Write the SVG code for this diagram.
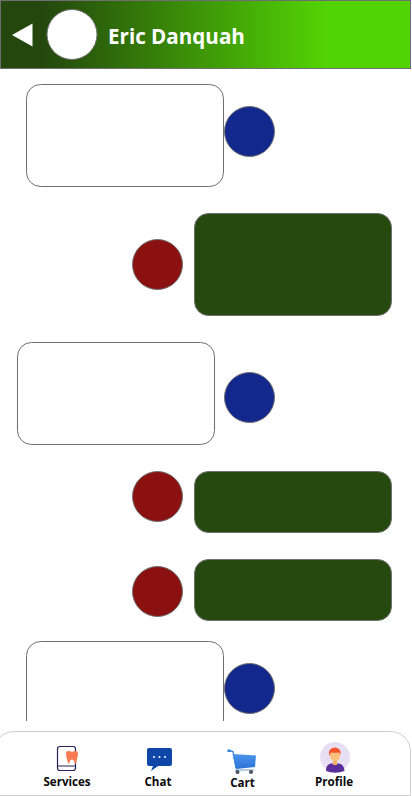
<svg xmlns="http://www.w3.org/2000/svg" width="412" height="796" viewBox="0 0 412 796">
<style>
.b{stroke:#6f6f6f;stroke-width:1}
.in{fill:#fff}
.out{fill:#26490f}
.u{fill:#12288c}
.r{fill:#8b1010}
.t{font-family:"Open Sans","Noto Sans","Liberation Sans",sans-serif;font-weight:700;font-size:11.6px;fill:#0a0a0a;text-anchor:middle}
</style>
<defs>
<linearGradient id="hg" gradientUnits="userSpaceOnUse" x1="0" y1="0" x2="411" y2="0">
<stop offset="0.1" stop-color="#23470d"/>
<stop offset="0.79" stop-color="#52d305"/>
<stop offset="1" stop-color="#52d305"/>
</linearGradient>
<clipPath id="cl"><rect x="0" y="69" width="412" height="652"/></clipPath>
<linearGradient id="cg" x1="0" y1="0" x2="0" y2="1"><stop offset="0" stop-color="#4b95ec"/><stop offset="1" stop-color="#2a72d6"/></linearGradient>
</defs>
<rect width="412" height="796" fill="#fff"/>
<g id="header">
<rect class="b" x="0.5" y="0.5" width="410" height="68" fill="url(#hg)"/>
<polygon points="12,35 32.5,23.5 32.5,46.5" fill="#fff"/>
<circle class="b" cx="72" cy="34.5" r="25" fill="#fff"/>
<text x="108" y="44" font-family="'Open Sans','Noto Sans','Liberation Sans',sans-serif" font-weight="700" font-size="20.6" fill="#fff">Eric Danquah</text>
</g>
<g id="messages" clip-path="url(#cl)">
<g id="msg1"><rect class="b in" x="26.5" y="84.5" width="197" height="102" rx="14"/><circle class="b u" cx="249.5" cy="131.5" r="25"/></g>
<g id="msg2"><rect class="b out" x="194.5" y="213.5" width="197" height="102" rx="14"/><circle class="b r" cx="157.5" cy="264.5" r="25"/></g>
<g id="msg3"><rect class="b in" x="17.5" y="342.5" width="197" height="102" rx="14"/><circle class="b u" cx="249.5" cy="397.5" r="25"/></g>
<g id="msg4"><rect class="b out" x="194.5" y="471.5" width="197" height="61" rx="14"/><circle class="b r" cx="157.5" cy="496.5" r="25"/></g>
<g id="msg5"><rect class="b out" x="194.5" y="559.5" width="197" height="61" rx="14"/><circle class="b r" cx="157.5" cy="591.5" r="25"/></g>
<g id="msg6"><rect class="b in" x="26.5" y="641.5" width="197" height="102" rx="14"/><circle class="b u" cx="249.5" cy="688.5" r="25"/></g>
</g>
<g id="nav">
<path d="M-6,795.5 H410.5 V751.5 A20,20 0 0 0 390.5,731.5 H14 A20,20 0 0 0 -6,751.5" fill="#fff" stroke="#cfcfcf" stroke-width="1"/>
<g id="nav-services">
<rect x="57.5" y="746.500" width="18" height="24" rx="2.500" fill="#fff" stroke="#23235a" stroke-width="1.200"/>
<line x1="57.500" y1="766" x2="75.500" y2="766" stroke="#23235a" stroke-width="1"/>
<path d="M66,753 Q66,751 68.500,751 Q70.500,751 72,752 Q73.500,751 75.500,751 Q78,751 78,753 Q78,757 77,759 Q76.500,763 75.500,763.500 Q74.500,763.500 74,761 Q73.500,759.500 72,759.500 Q70.500,759.500 70,761 Q69.500,763.500 68.500,763.500 Q67.500,763 67,759 Q66,757 66,753Z" fill="#fa7a52"/>
<text class="t" x="67" y="786">Services</text>
</g>
<g id="nav-chat">
<path d="M149,748 H170 Q172,748 172,750 V764 Q172,766 170,766 H158 L151,771 L153,766 H149 Q147,766 147,764 V750 Q147,748 149,748Z" fill="#0e47a8"/>
<circle cx="154" cy="757" r="1" fill="#fff"/><circle cx="159.500" cy="757" r="1" fill="#fff"/><circle cx="165" cy="757" r="1" fill="#fff"/>
<text class="t" x="158" y="786">Chat</text>
</g>
<g id="nav-cart">
<path d="M229,750.500 L233,751.500 L236,768" fill="none" stroke="#3f7fd0" stroke-width="1.300"/>
<rect x="227.500" y="749.500" width="3" height="2.500" fill="#2c86e0"/>
<path d="M232.500,754 L256,755.500 L255,767 L236,769Z" fill="url(#cg)"/>
<path d="M235,769 H254 V771 H235Z" fill="#b8cfe0"/>
<circle cx="237.500" cy="772" r="2" fill="#46525c"/><circle cx="251" cy="772" r="2" fill="#46525c"/>
<text class="t" x="242.500" y="787">Cart</text>
</g>
<g id="nav-profile">
<circle cx="335" cy="757" r="15" fill="#e8dff2"/>
<path d="M326,771 Q326,764 331,763.500 H339 Q344,764 344.500,771 Q335,774.500 326,771Z" fill="#5b2d9c"/>
<rect x="333" y="759" width="4" height="6" fill="#f5b066"/>
<ellipse cx="335" cy="755.500" rx="5" ry="5.500" fill="#fbc07c"/>
<path d="M329,756 Q327.500,748 335,747.500 Q341.500,748 340.500,755 L339,752.500 Q333.500,753 331,752.500Z" fill="#f4552a"/>
<text class="t" x="334" y="786">Profile</text>
</g>
</g>
</svg>
